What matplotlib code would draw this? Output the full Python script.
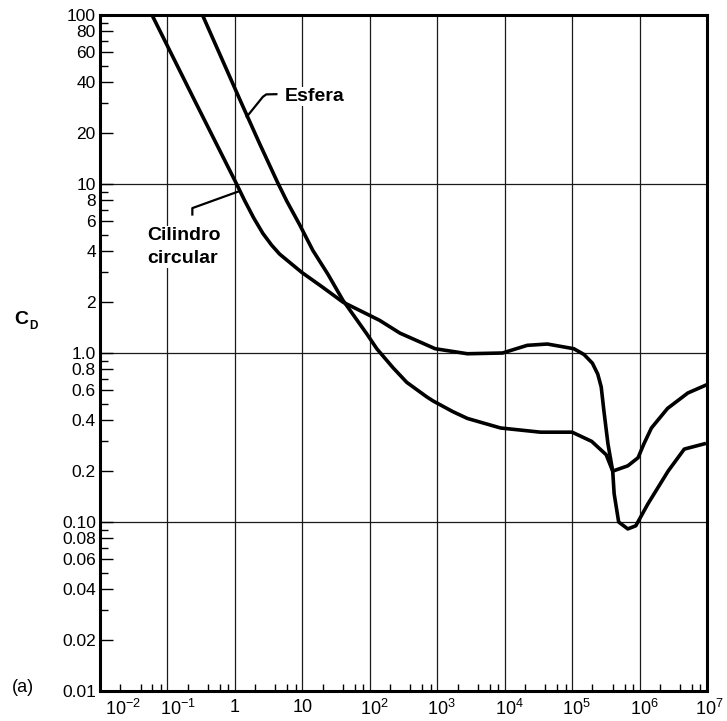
import numpy as np
import matplotlib.pyplot as plt
from matplotlib.ticker import FixedLocator, NullFormatter
from matplotlib.transforms import ScaledTranslation

# Circular cylinder
re_cyl = [0.047, 0.255, 1.06, 1.39, 1.9, 2.6, 3.5, 4.6, 6.7, 9.8, 20, 40, 140, 281,
          933, 2800, 9300, 21600, 43000, 1.06e5, 1.5e5, 2.0e5, 2.4e5, 2.7e5, 2.95e5,
          3.4e5, 4.0e5, 6.7e5, 9.5e5, 1.16e6, 1.5e6, 2.6e6, 5.2e6, 1.0e7]
cd_cyl = [120, 31, 10, 8.0, 6.3, 5.1, 4.35, 3.85, 3.4, 3.0, 2.45, 2.0, 1.56, 1.31,
          1.06, 0.99, 1.0, 1.11, 1.13, 1.06, 0.98, 0.87, 0.75, 0.63, 0.46,
          0.29, 0.20, 0.215, 0.24, 0.29, 0.36, 0.47, 0.58, 0.65]

# Sphere
re_sph = [0.27, 1.21, 2.3, 4.3, 5.9, 9.0, 14.3, 24, 40, 90, 127, 220, 354, 700, 871,
          1700, 2800, 8700, 34000, 1.0e5, 1.95e5, 3.2e5, 4.0e5, 4.2e5, 4.9e5,
          6.7e5, 8.8e5, 1.33e6, 2.65e6, 4.6e6, 9.1e6]
cd_sph = [120, 31, 17.5, 10.2, 7.9, 5.8, 4.05, 2.92, 2.05, 1.30, 1.06, 0.82, 0.67, 0.55,
          0.52, 0.45, 0.41, 0.36, 0.34, 0.34, 0.30, 0.25, 0.20, 0.147, 0.10,
          0.091, 0.095, 0.128, 0.20, 0.27, 0.29]

x_decades = [1e-2, 1e-1, 1, 10, 1e2, 1e3, 1e4, 1e5, 1e6, 1e7]
x_labels = ['$10^{-2}$', '$10^{-1}$', '1', '10', '$10^{2}$', '$10^{3}$',
            '$10^{4}$', '$10^{5}$', '$10^{6}$', '$10^{7}$']
y_grid = [0.1, 1, 10]
y_ticks = [0.01, 0.02, 0.04, 0.06, 0.08, 0.1, 0.2, 0.4, 0.6, 0.8, 1, 2, 4, 6, 8,
           10, 20, 40, 60, 80, 100]
y_labels = ['0.01', '0.02', '0.04', '0.06', '0.08', '0.10', '0.2', '0.4', '0.6',
            '0.8', '1.0', '2', '4', '6', '8', '10', '20', '40', '60', '80', '100']
y_minor = [0.03, 0.05, 0.07, 0.09, 0.3, 0.5, 0.7, 0.9, 3, 5, 7, 9, 30, 50, 70, 90]
x_minor = [m * d for d in x_decades[:-1] for m in (2, 4, 6, 8)]

# leader lines for the two labels
esf_lead_x = [1.5, 2.6, 2.92, 4.12]
esf_lead_y = [25, 32.8, 33.9, 34.0]
cil_lead_x = [1.19, 0.234, 0.234]
cil_lead_y = [9.1, 7.2, 6.6]

plt.rcParams['font.family'] = ['Liberation Sans', 'DejaVu Sans']
plt.rcParams['mathtext.default'] = 'regular'

fig = plt.figure(figsize=(7.27, 7.21), dpi=100)
ax = fig.add_axes([100 / 727, 1 - 691 / 721, 607 / 727, 676 / 721])
ax.set_xscale('log')
ax.set_yscale('log')
ax.set_xlim(1e-2, 1e7)
ax.set_ylim(0.01, 100)

for d in x_decades[1:-1]:
    ax.axvline(d, color='#1a1a1a', lw=0.9, zorder=1)
for g in y_grid:
    ax.axhline(g, color='#1a1a1a', lw=0.9, zorder=1)

ax.plot(re_cyl, cd_cyl, color='black', lw=2.6, solid_joinstyle='round', zorder=3)
ax.plot(re_sph, cd_sph, color='black', lw=2.6, solid_joinstyle='round', zorder=3)

ax.plot(esf_lead_x, esf_lead_y, color='black', lw=1.6, zorder=3)
ax.plot(cil_lead_x, cil_lead_y, color='black', lw=1.6, zorder=3)
ax.text(5.5, 33, 'Esfera', fontsize=14, weight='bold', ha='left', va='center',
        bbox=dict(fc='white', ec='none', pad=1), zorder=4)
ax.text(0.05, 4.25, 'Cilindro\ncircular', fontsize=14, weight='bold', ha='left',
        va='center', linespacing=1.45, bbox=dict(fc='white', ec='none', pad=1), zorder=4)

# y axis ticks
ax.yaxis.set_major_locator(FixedLocator(y_ticks))
ax.set_yticklabels(y_labels, fontsize=12.5)
ax.yaxis.set_minor_locator(FixedLocator(y_minor))
ax.yaxis.set_minor_formatter(NullFormatter())

# x axis ticks, labels drawn by hand
ax.xaxis.set_major_locator(FixedLocator(x_decades))
ax.set_xticklabels([])
ax.xaxis.set_minor_locator(FixedLocator(x_minor))
ax.xaxis.set_minor_formatter(NullFormatter())

ax.tick_params(axis='y', which='major', direction='in', length=9, width=1, pad=3)
ax.tick_params(axis='y', which='minor', direction='in', length=6, width=1)
ax.tick_params(axis='x', which='major', direction='in', length=0, pad=3)
ax.tick_params(axis='x', which='minor', direction='in', length=5, width=1)

for s in ax.spines.values():
    s.set_linewidth(2.2)

offsets = [5, -7, 0, 0, -10, -10, -10, -10, -10, -12]
for d, lab, off in zip(x_decades, x_labels, offsets):
    ha = 'center' if lab in ('1', '10') else 'left'
    tr = ax.get_xaxis_transform() + ScaledTranslation(off / 100, -8 / 100, fig.dpi_scale_trans)
    ax.text(d, 0, lab, transform=tr, ha=ha, va='top', fontsize=13, clip_on=False)

fig.text(21 / 727, 1 - 320 / 721, 'C', fontsize=14, weight='bold', ha='center', va='center')
fig.text(33 / 727, 1 - 326 / 721, 'D', fontsize=8.5, weight='bold', ha='center', va='center')
fig.text(23 / 727, 1 - 687 / 721, '(a)', fontsize=13, ha='center', va='center')

fig.savefig('out.png', dpi=100)
